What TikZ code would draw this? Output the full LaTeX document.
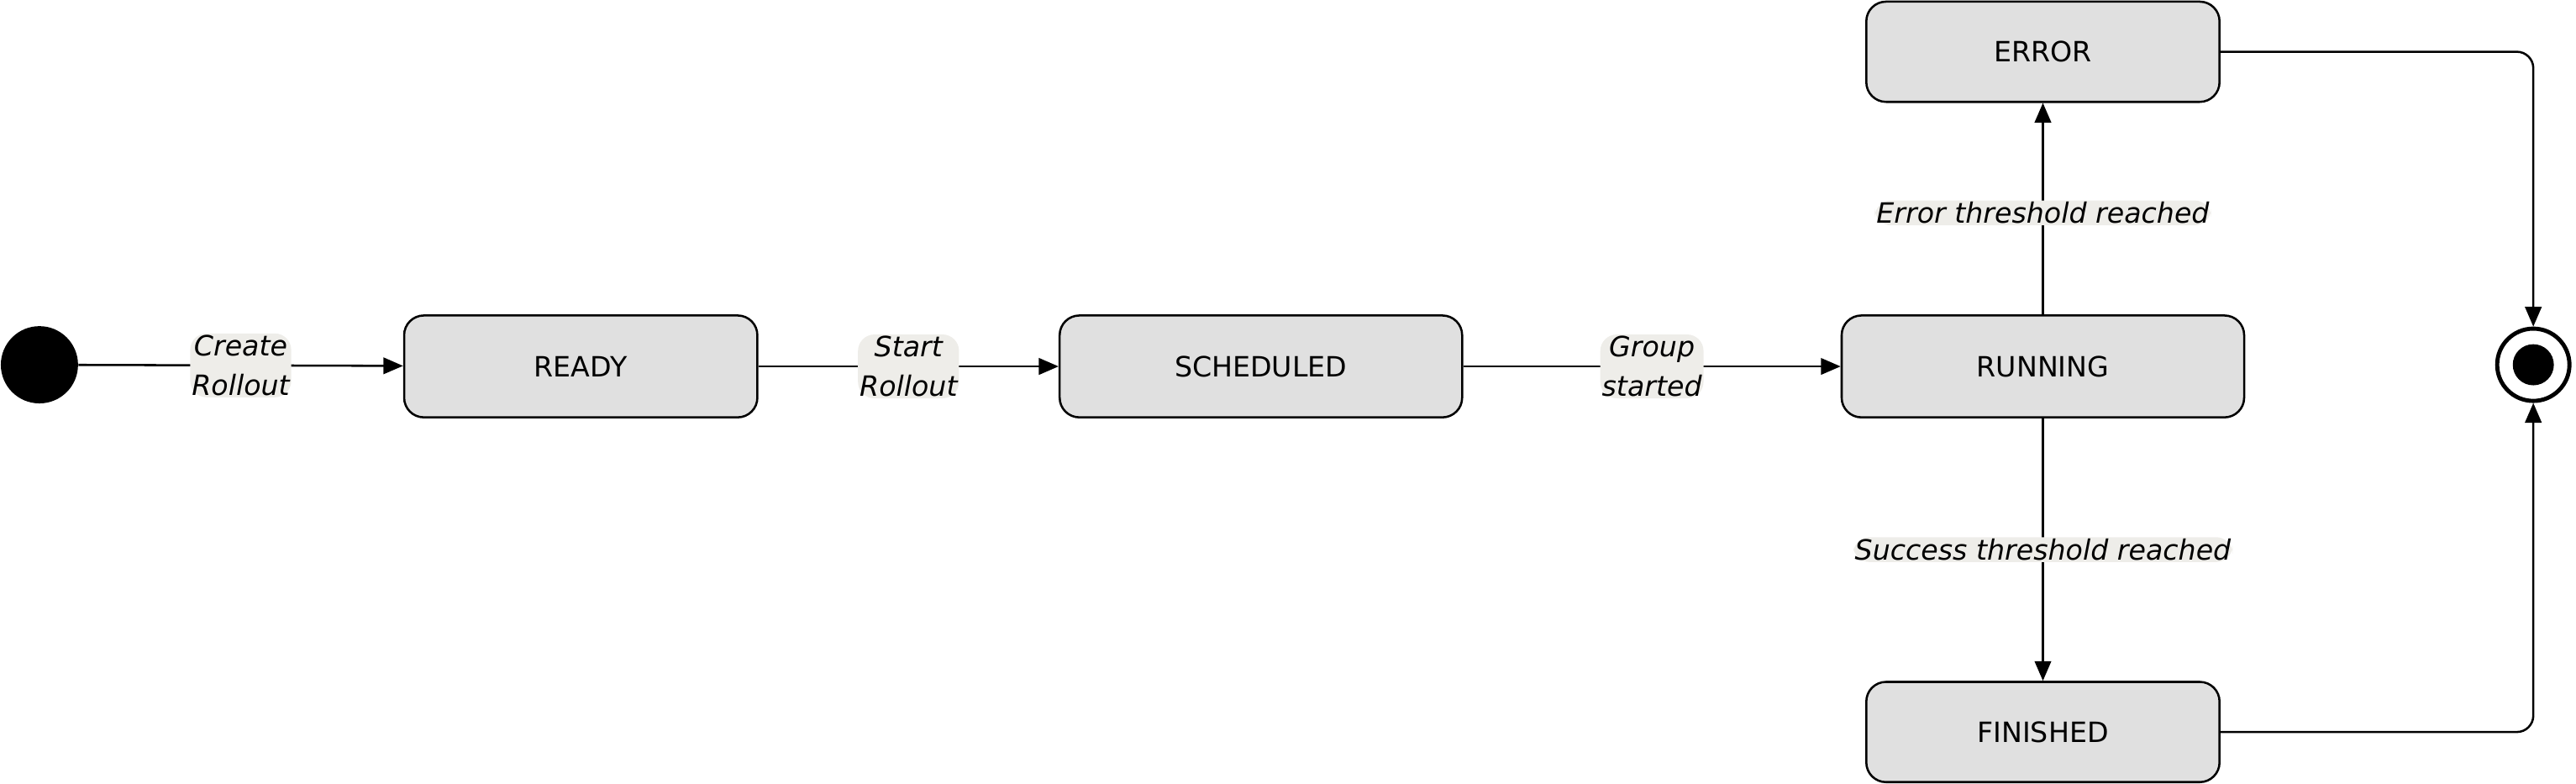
\documentclass[tikz,border=0pt]{standalone}
\usepackage{fontspec}
\setmainfont{DejaVu Sans}
\usetikzlibrary{arrows.meta}
\definecolor{boxfill}{HTML}{E0E0E0}
\definecolor{lblbg}{HTML}{EEEDE9}
\begin{document}
\begin{tikzpicture}[x=1pt,y=-1pt,
  state/.style={draw,line width=1.3pt,fill=boxfill,rounded corners=12pt,minimum height=62pt,font=\fontsize{17}{20}\selectfont,inner sep=0pt},
  lbl/.style={fill=lblbg,font=\fontsize{17}{24}\selectfont\itshape,inner sep=1pt,align=center},
  conn/.style={line width=1.3pt,-{Triangle[length=12pt,width=10pt]},rounded corners=10pt}]
\useasboundingbox (0,0) rectangle (1568,477);
\node[circle,fill=black,minimum size=47pt,inner sep=0pt] (init) at (24,222) {};
\node[state,minimum width=215pt] (ready) at (353.5,223) {READY};
\node[state,minimum width=245pt] (sched) at (767.5,223) {SCHEDULED};
\node[state,minimum width=245pt] (run) at (1243.5,223) {RUNNING};
\node[state,minimum width=215pt,minimum height=61pt] (err) at (1243.5,31.5) {ERROR};
\node[state,minimum width=215pt,minimum height=61pt] (fin) at (1243.5,445.5) {FINISHED};
\node[circle,draw,line width=2.5pt,minimum size=44pt,inner sep=0pt] (final) at (1542,222) {};
\node[circle,fill=black,minimum size=25pt,inner sep=0pt] at (final) {};
\draw[conn] (init) -- node[lbl]{Create\\Rollout} (ready);
\draw[conn] (ready) -- node[lbl]{Start\\Rollout} (sched);
\draw[conn] (sched) -- node[lbl]{Group\\started} (run);
\draw[conn] (run) -- node[lbl,pos=0.48]{Error threshold reached} (err);
\draw[conn] (run) -- node[lbl,pos=0.5]{Success threshold reached} (fin);
\draw[conn] (err.east) -| (final.north);
\draw[conn] (fin.east) -| (final.south);
\end{tikzpicture}
\end{document}
